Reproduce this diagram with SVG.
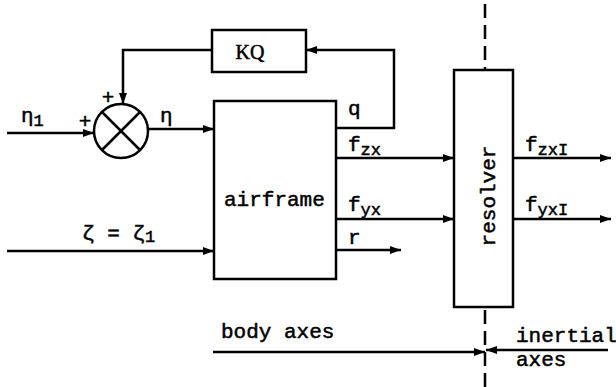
<svg xmlns="http://www.w3.org/2000/svg" width="616" height="387" viewBox="0 0 616 387">
  <style>
    .box { fill: none; stroke: #000; stroke-width: 2.5; }
    .line { fill: none; stroke: #000; stroke-width: 2.5; }
    .arr { marker-end: url(#ah); }
    .dash { fill: none; stroke: #000; stroke-width: 2.5; stroke-dasharray: 14 7; }
    .t { font-family: "Liberation Mono", "DejaVu Sans Mono", monospace; font-size: 21px; fill: #000; stroke: #000; stroke-width: 0.5; }
    .sub { font-size: 17px; }
    .serif { font-family: "Liberation Serif", "DejaVu Serif", serif; font-size: 20px; }
  </style>
  <defs>
    <marker id="ah" markerUnits="userSpaceOnUse" markerWidth="12" markerHeight="9" refX="11" refY="4.5" orient="auto">
      <path d="M0,0.5 L11,4.5 L0,8.5 Z" fill="#000"/>
    </marker>
  </defs>

  <rect width="616" height="387" fill="#fff"/>

  <g id="kq">
    <rect class="box" x="212" y="30" width="94" height="42"/>
    <text class="t serif" x="250" y="59" text-anchor="middle">KQ</text>
  </g>

  <g id="summer">
    <circle class="box" cx="121" cy="131" r="27"/>
    <line class="line" x1="102" y1="112" x2="140" y2="150"/>
    <line class="line" x1="140" y1="112" x2="102" y2="150"/>
    <text class="t" x="85" y="128" text-anchor="middle" font-size="16">+</text>
    <text class="t" x="108" y="104" text-anchor="middle" font-size="16">+</text>
  </g>

  <g id="airframe">
    <rect class="box" x="214" y="101" width="122" height="178"/>
    <text class="t" x="224" y="206">airframe</text>
  </g>

  <g id="resolver">
    <rect class="box" x="454" y="70" width="59" height="237"/>
    <text class="t" x="0" y="0" text-anchor="middle" font-size="20" transform="translate(495,196) rotate(-90)">resolver</text>
  </g>

  <g id="frame-boundary">
    <line class="dash" x1="485" y1="4" x2="485" y2="70"/>
    <line class="dash" x1="485" y1="310" x2="485" y2="387"/>
  </g>

  <g id="connectors">
    <line class="line arr" x1="7" y1="133" x2="94" y2="133"/>
    <polyline class="line arr" points="212,50 123,50 123,104"/>
    <line class="line arr" x1="148" y1="129" x2="214" y2="129"/>
    <line class="line arr" x1="7" y1="251" x2="214" y2="251"/>
    <polyline class="line arr" points="336,128 394,128 394,50 306,50"/>
    <line class="line arr" x1="336" y1="158" x2="454" y2="158"/>
    <line class="line arr" x1="336" y1="219" x2="454" y2="219"/>
    <line class="line arr" x1="336" y1="250" x2="401" y2="250"/>
    <line class="line arr" x1="513" y1="158" x2="611" y2="158"/>
    <line class="line arr" x1="513" y1="219" x2="611" y2="219"/>
    <line class="line arr" x1="213" y1="352" x2="485" y2="352"/>
    <line class="line arr" x1="608" y1="350" x2="486" y2="350"/>
  </g>

  <g id="labels">
    <text class="t" x="21" y="122">η<tspan class="sub" dy="4">1</tspan></text>
    <text class="t" x="160" y="122">η</text>
    <text class="t" x="82" y="240">ζ = ζ<tspan class="sub" dy="2">1</tspan></text>
    <text class="t" x="348" y="115">q</text>
    <text class="t" x="348" y="151">f<tspan class="sub" dy="4">zx</tspan></text>
    <text class="t" x="348" y="211">f<tspan class="sub" dy="4">yx</tspan></text>
    <text class="t" x="348" y="244">r</text>
    <text class="t" x="525" y="151">f<tspan class="sub" dy="4">zxI</tspan></text>
    <text class="t" x="525" y="211">f<tspan class="sub" dy="4">yxI</tspan></text>
    <text class="t" x="221" y="338">body axes</text>
    <text class="t" x="516" y="342" font-size="20">inertial</text>
    <text class="t" x="516" y="366" font-size="20">axes</text>
  </g>
</svg>
